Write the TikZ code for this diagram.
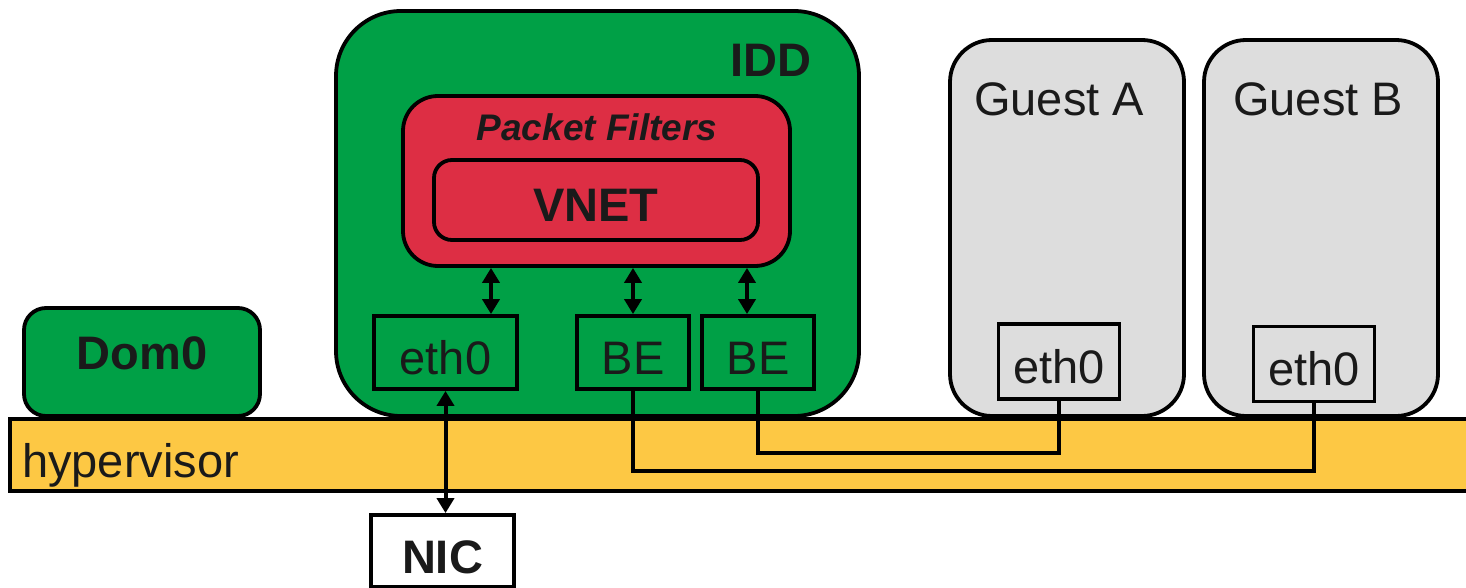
\documentclass[tikz,border=0pt]{standalone}
\usepackage{fontspec}
\setmainfont{Liberation Sans}
\usetikzlibrary{arrows.meta}
\definecolor{domgreen}{HTML}{00A046}
\definecolor{pfred}{HTML}{DD2E44}
\definecolor{hypyellow}{HTML}{FDC844}
\definecolor{guestgrey}{HTML}{DDDDDD}
\definecolor{txt}{HTML}{1A1A1A}
\begin{document}
\begin{tikzpicture}[x=1pt,y=-1pt,
  big/.style={font=\fontsize{47pt}{56pt}\selectfont, text=txt},
  bigb/.style={font=\fontsize{47pt}{56pt}\selectfont\bfseries, text=txt},
  box/.style={draw=black, line width=3.8pt, inner xsep=0pt, inner ysep=0pt, text depth=0pt},
  dom/.style={box, fill=domgreen},
  guest/.style={box, fill=guestgrey, rounded corners=42pt},
  iface/.style={box, big, text height=43pt},
  conn/.style={line width=4pt},
  dblarrow/.style={conn, {Triangle[length=15pt,width=17pt]}-{Triangle[length=15pt,width=17pt]}},
]
\clip (0,0) rectangle (1466,588);
% hypervisor
\node[box, fill=hypyellow, anchor=north west, minimum width=1480pt, minimum height=72pt] (hyp) at (8,417) {};
\node[big, anchor=base west, inner sep=0pt] (hyptext) at (22,477) {hypervisor};
% Dom0
\node[dom, rounded corners=22pt, minimum width=236pt, minimum height=108pt, bigb, text height=14pt] (dom0) at (142,362) {Dom0};
% IDD
\node[dom, rounded corners=65pt, minimum width=523pt, minimum height=405pt] (idd) at (597.5,213.5) {};
\node[bigb, anchor=base east, inner sep=0pt] (iddtext) at (812,77) {IDD};
\node[box, fill=pfred, rounded corners=35pt, minimum width=387pt, minimum height=170pt] (pf) at (596.5,181) {};
\node[font=\fontsize{37pt}{44pt}\selectfont\bfseries\itshape, text=txt, anchor=base, inner sep=0pt] (pftext) at (597,141) {Packet Filters};
\node[box, fill=pfred, rounded corners=18pt, minimum width=324pt, minimum height=80pt, bigb, text height=44pt] (vnet) at (596,200) {VNET};
\node[iface, minimum width=143pt, minimum height=73pt] (eth0i) at (445.5,352.5) {eth0};
\node[iface, minimum width=112pt, minimum height=73pt] (be1) at (633,352.5) {BE};
\node[iface, minimum width=112pt, minimum height=73pt] (be2) at (758,352.5) {BE};
% Guests
\node[guest, minimum width=234pt, minimum height=376pt] (ga) at (1067,228) {};
\node[big, anchor=base west, inner sep=0pt] (gatext) at (974,115.5) {Guest A};
\node[guest, minimum width=234pt, minimum height=376pt] (gb) at (1321,228) {};
\node[big, anchor=base west, inner sep=0pt] (gbtext) at (1233,115.5) {Guest B};
\node[iface, fill=guestgrey, text height=44pt, minimum width=121pt, minimum height=75pt] (etha) at (1059,361.5) {eth0};
\node[iface, fill=guestgrey, text height=42pt, minimum width=121pt, minimum height=75pt] (ethb) at (1314,364) {eth0};
% NIC
\node[box, fill=white, bigb, text height=44pt, minimum width=143pt, minimum height=72pt] (nic) at (442.5,551) {NIC};
% connectors
\coordinate (a1) at (491,0);
\coordinate (a3) at (747,0);
\coordinate (ya) at (0,453);
\coordinate (yb) at (0,471);
\draw[dblarrow] (pf.south -| a1) -- (eth0i.north -| a1);
\draw[dblarrow] (pf.south -| be1) -- (be1.north);
\draw[dblarrow] (pf.south -| a3) -- (be2.north -| a3);
\draw[dblarrow] (eth0i.south) -- (nic.north -| eth0i);
\draw[conn, line join=miter] (be1.south) -- (be1.south |- yb) -- (ethb.south |- yb) -- (ethb.south);
\draw[conn, line join=miter] (be2.south) -- (be2.south |- ya) -- (etha.south |- ya) -- (etha.south);
\end{tikzpicture}
\end{document}
